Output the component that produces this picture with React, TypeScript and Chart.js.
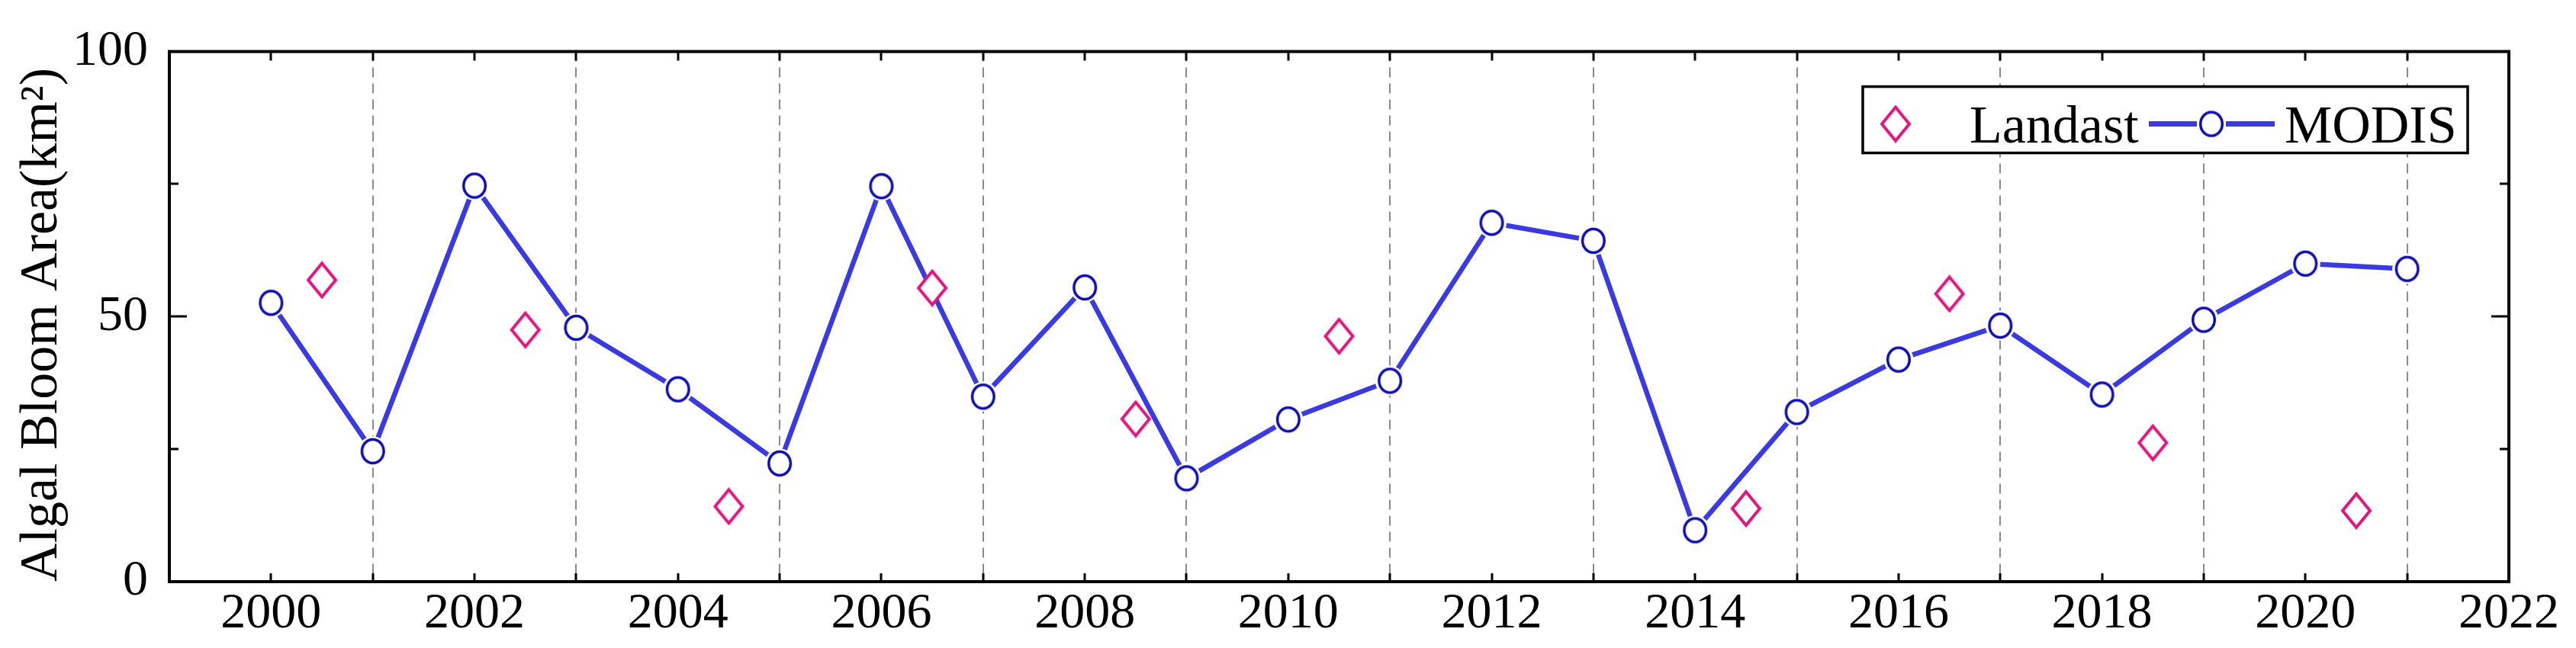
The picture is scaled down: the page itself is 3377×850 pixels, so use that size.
import React, { useEffect, useRef } from 'react';
import { Chart, registerables } from 'chart.js';

Chart.register(...registerables);

// ---- data ----
const modisYears = [2000, 2001, 2002, 2003, 2004, 2005, 2006, 2007, 2008, 2009, 2010, 2011, 2012, 2013, 2014, 2015, 2016, 2017, 2018, 2019, 2020, 2021];
const modisArea = [52.6, 24.6, 74.7, 47.9, 36.3, 22.3, 74.6, 34.9, 55.5, 19.5, 30.6, 37.9, 67.7, 64.3, 9.7, 32.0, 41.9, 48.3, 35.3, 49.4, 60.0, 59.0];
const landsatYears = [2000.5, 2002.5, 2004.5, 2006.5, 2008.5, 2010.5, 2014.5, 2016.5, 2018.5, 2020.5];
const landsatArea = [56.9, 47.5, 14.2, 55.4, 30.7, 46.3, 13.8, 54.3, 26.2, 13.4];
const xTickLabels = ['2000', '2002', '2004', '2006', '2008', '2010', '2012', '2014', '2016', '2018', '2020', '2022'];
const yTickLabels = ['0', '50', '100'];
const yMinorTicks = [25, 75];
const seriesNames = ['Landast', 'MODIS'];
const yTitle = 'Algal Bloom Area(km\u00B2)';

const FONT = "'Liberation Serif', 'Times New Roman', serif";
const LINE_COLOR = '#3a3ae2';
const CIRCLE_COLOR = '#0c0cb4';
const DIAMOND_COLOR = '#e1157d';

const modisPoints = modisYears.map((x, i) => ({ x, y: modisArea[i] }));
const landsatPoints = landsatYears.map((x, i) => ({ x, y: landsatArea[i] }));

function makeDiamond(): HTMLCanvasElement {
  const c = document.createElement('canvas');
  c.width = 44;
  c.height = 50;
  const g = c.getContext('2d')!;
  g.beginPath();
  g.moveTo(22, 3);
  g.lineTo(40, 25);
  g.lineTo(22, 47);
  g.lineTo(4, 25);
  g.closePath();
  g.fillStyle = '#fff';
  g.fill();
  g.strokeStyle = DIAMOND_COLOR;
  g.lineWidth = 4;
  g.lineJoin = 'miter';
  g.stroke();
  return c;
}

function makeCircle(): HTMLCanvasElement {
  const c = document.createElement('canvas');
  c.width = 36;
  c.height = 38;
  const g = c.getContext('2d')!;
  g.beginPath();
  g.ellipse(18, 19, 14.3, 15.5, 0, 0, Math.PI * 2);
  g.fillStyle = '#fff';
  g.fill();
  g.strokeStyle = CIRCLE_COLOR;
  g.lineWidth = 3.5;
  g.stroke();
  return c;
}

function makeFramePlugin() {
  return {
    id: 'frameTicks',
    afterDatasetsDraw(chart: any) {
      const { ctx, chartArea, scales } = chart;
      const { left, right, top, bottom } = chartArea;
      const xs = scales.x;
      const ys = scales.y;
      ctx.save();
      ctx.strokeStyle = '#000';
      ctx.lineWidth = 3;
      ctx.beginPath();
      xs.ticks.forEach((t: any) => {
        if (t.value <= xs.min || t.value >= xs.max) return;
        const px = Math.round(xs.getPixelForValue(t.value));
        ctx.moveTo(px, bottom);
        ctx.lineTo(px, bottom - 11);
        ctx.moveTo(px, top);
        ctx.lineTo(px, top + 12);
      });
      const yVals = [...yMinorTicks, ...yTickLabels.map(Number)];
      yVals.forEach((v) => {
        if (v <= ys.min || v >= ys.max) return;
        const py = Math.round(ys.getPixelForValue(v));
        const len = yMinorTicks.includes(v) ? 12 : 23;
        ctx.moveTo(left, py);
        ctx.lineTo(left + len, py);
        ctx.moveTo(right, py);
        ctx.lineTo(right - len, py);
      });
      ctx.stroke();
      ctx.lineWidth = 4;
      ctx.strokeRect(left, top, right - left, bottom - top);
      ctx.restore();
    },
  };
}

function makeLegendPlugin(diamond: HTMLCanvasElement, circle: HTMLCanvasElement) {
  return {
    id: 'customLegend',
    afterDraw(chart: any) {
      const { ctx, chartArea } = chart;
      const boxLeft = chartArea.right - 847;
      const boxRight = chartArea.right - 54;
      const boxTop = chartArea.top + 46;
      const boxBottom = chartArea.top + 133;
      const cy = chartArea.top + 95;
      const baseline = chartArea.top + 119;
      ctx.save();
      ctx.fillStyle = '#fff';
      ctx.fillRect(boxLeft, boxTop, boxRight - boxLeft, boxBottom - boxTop);
      ctx.strokeStyle = '#000';
      ctx.lineWidth = 3.5;
      ctx.strokeRect(boxLeft, boxTop, boxRight - boxLeft, boxBottom - boxTop);

      const dx = boxLeft + 43;
      ctx.drawImage(diamond, dx - diamond.width / 2, cy - diamond.height / 2);

      ctx.fillStyle = '#000';
      ctx.font = `70px ${FONT}`;
      ctx.textBaseline = 'alphabetic';
      ctx.textAlign = 'left';
      ctx.fillText(seriesNames[0], boxLeft + 140, baseline);

      const cx = boxLeft + 457;
      ctx.strokeStyle = LINE_COLOR;
      ctx.lineWidth = 7;
      ctx.beginPath();
      ctx.moveTo(boxLeft + 375, cy);
      ctx.lineTo(cx - 19, cy);
      ctx.moveTo(cx + 19, cy);
      ctx.lineTo(boxLeft + 540, cy);
      ctx.stroke();
      ctx.drawImage(circle, cx - circle.width / 2, cy - circle.height / 2);

      ctx.fillStyle = '#000';
      ctx.fillText(seriesNames[1], boxLeft + 553, baseline);
      ctx.restore();
    },
  };
}

export default function App() {
  const canvasRef = useRef<HTMLCanvasElement | null>(null);

  useEffect(() => {
    if (!canvasRef.current) return;
    const diamond = makeDiamond();
    const circle = makeCircle();
    const chart = new Chart(canvasRef.current, {
      type: 'line',
      data: {
        datasets: [
          {
            label: seriesNames[0],
            data: landsatPoints,
            showLine: false,
            pointStyle: diamond as any,
            pointRadius: 22,
            order: 0,
          },
          {
            label: seriesNames[1],
            data: modisPoints,
            showLine: false,
            pointStyle: circle as any,
            pointRadius: 16,
            order: 1,
          },
          {
            label: 'halo',
            data: modisPoints,
            showLine: false,
            pointStyle: 'circle',
            pointRadius: 19.5,
            pointBorderWidth: 0,
            pointBorderColor: '#fff',
            pointBackgroundColor: '#fff',
            order: 2,
          },
          {
            label: 'line',
            data: modisPoints,
            borderColor: LINE_COLOR,
            borderWidth: 6.5,
            pointRadius: 0,
            tension: 0,
            fill: false,
            order: 3,
          },
        ],
      },
      options: {
        animation: false,
        responsive: false,
        devicePixelRatio: 1,
        events: [],
        layout: { padding: { top: 61, right: 88, left: 0, bottom: 0 } },
        plugins: {
          legend: { display: false },
          tooltip: { enabled: false },
        },
        scales: {
          x: {
            type: 'linear',
            min: 1999,
            max: 2022,
            afterFit: (s: any) => { s.height = 87; },
            ticks: {
              stepSize: 1,
              autoSkip: false,
              maxRotation: 0,
              padding: 3,
              color: '#000',
              font: { family: FONT, size: 66 },
              callback: (v: any) => {
                const s = String(v);
                return xTickLabels.includes(s) ? s : '';
              },
            },
            grid: {
              drawTicks: false,
              lineWidth: 2,
              color: (c: any) => {
                const v = c.tick ? c.tick.value : 0;
                return v > 1999 && v < 2022 && v % 2 === 1 ? '#8a8a8a' : 'rgba(0,0,0,0)';
              },
            },
            border: { display: false, dash: [13, 8] },
          },
          y: {
            min: 0,
            max: 100,
            afterFit: (s: any) => { s.width = 222; },
            ticks: {
              stepSize: 50,
              padding: 28,
              color: '#000',
              font: { family: FONT, size: 66 },
              callback: (v: any) => {
                const s = String(v);
                return yTickLabels.includes(s) ? s : '';
              },
            },
            grid: { display: false, drawTicks: false },
            border: { display: false },
            title: {
              display: true,
              text: yTitle,
              align: 'start',
              color: '#000',
              font: { family: FONT, size: 70 },
              padding: { top: 14, bottom: 0 },
            },
          },
        },
      },
      plugins: [makeFramePlugin(), makeLegendPlugin(diamond, circle)],
    });
    return () => chart.destroy();
  }, []);

  return (
    <div style={{ position: 'absolute', left: 0, top: 0, width: 3377, height: 850, background: '#fff' }}>
      <canvas ref={canvasRef} width={3377} height={850} style={{ width: 3377, height: 850 }} />
    </div>
  );
}
